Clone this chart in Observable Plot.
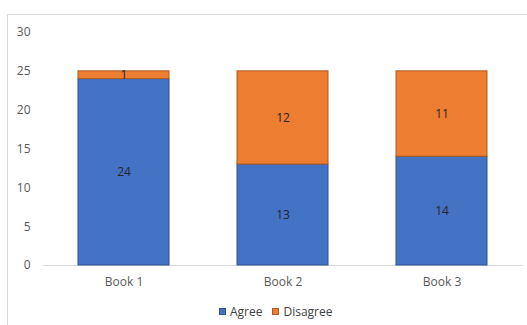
<!DOCTYPE html>
<html>
<head>
<meta charset="utf-8">
<script src="https://cdn.jsdelivr.net/npm/d3@7"></script>
<script src="https://cdn.jsdelivr.net/npm/@observablehq/plot@0.6"></script>
<style>
  html, body { margin: 0; padding: 0; background: #fff; overflow: hidden; width: 527px; height: 325px; }
  #frame { position: absolute; left: 7px; top: 14px; width: 560px; height: 340px; border: 1px solid #d9d9d9; box-sizing: border-box; }
  #chart { position: absolute; left: 0; top: 0; }
  #legend { position: absolute; left: 219px; top: 303px; font-family: "Open Sans", sans-serif; font-size: 12px; color: #404040; display: flex; gap: 10px; align-items: center; }
  #legend span.item { display: flex; align-items: center; gap: 4px; }
  #legend span.sw { display: inline-block; width: 7px; height: 7px; box-sizing: border-box; }
</style>
</head>
<body>
<div id="frame"></div>
<div id="chart"></div>
<div id="legend"></div>
<script>
const categories = ["Book 1", "Book 2", "Book 3"];
const seriesNames = ["Agree", "Disagree"];
const agree = [24, 13, 14];
const disagree = [1, 12, 11];
const yTicks = [0, 5, 10, 15, 20, 25, 30];
const fills = ["#4472C4", "#ED7D31"];
const strokes = ["#2F528F", "#AE5A21"];

const data = [];
categories.forEach((c, i) => {
  data.push({book: c, series: "Agree", value: agree[i]});
  data.push({book: c, series: "Disagree", value: disagree[i]});
});

const font = '"Open Sans", sans-serif';
const plot = Plot.plot({
  width: 527,
  height: 300,
  marginLeft: 43,
  marginRight: 4.5,
  marginTop: 32,
  marginBottom: 35,
  style: {fontFamily: font, fontSize: "12px", color: "#595959", background: "transparent"},
  x: {domain: categories, paddingInner: 0.43, paddingOuter: 0.215, label: null},
  y: {domain: [0, 30], ticks: yTicks, label: null},
  color: {domain: seriesNames, range: fills},
  marks: [
    Plot.axisY({ticks: yTicks, tickSize: 0, tickPadding: 13, fontSize: 12, fill: "#595959", label: null}),
    Plot.axisX({tickSize: 0, tickPadding: 12, fontSize: 12, fill: "#595959", label: null}),
    Plot.ruleY([0], {stroke: "#d9d9d9", strokeWidth: 1}),
    Plot.barY(data, Plot.stackY({
      x: "book", y: "value", z: "series", fill: "series",
      stroke: d => strokes[seriesNames.indexOf(d.series)],
      strokeWidth: 1, order: seriesNames
    })),
    Plot.text(data, Plot.stackY({
      x: "book", y: "value", z: "series", text: d => String(d.value),
      order: seriesNames, fill: "#262626", fontSize: 12
    }))
  ]
});
document.getElementById("chart").appendChild(plot);

const legend = document.getElementById("legend");
seriesNames.forEach((s, i) => {
  const item = document.createElement("span");
  item.className = "item";
  const sw = document.createElement("span");
  sw.className = "sw";
  sw.style.background = fills[i];
  sw.style.border = "1px solid " + strokes[i];
  const t = document.createElement("span");
  t.textContent = s;
  item.appendChild(sw);
  item.appendChild(t);
  legend.appendChild(item);
});
</script>
</body>
</html>
